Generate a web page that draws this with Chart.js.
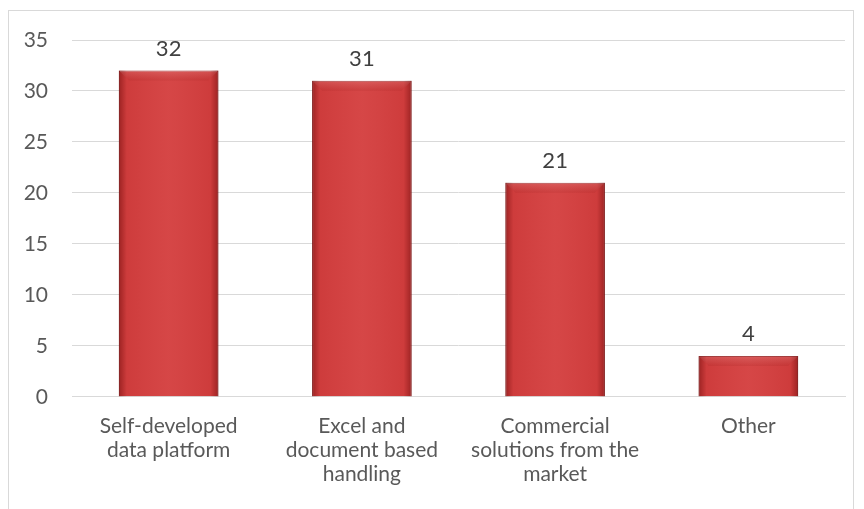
<!DOCTYPE html>
<html>
<head>
<meta charset="utf-8">
<script src="https://cdn.jsdelivr.net/npm/chart.js@4/dist/chart.umd.min.js"></script>
<style>
  html, body { margin: 0; padding: 0; background: #fff; overflow: hidden; }
  #wrap { position: relative; width: 864px; height: 509px; }
  #frame { position: absolute; left: 8px; top: 10px; width: 846px; height: 520px; border: 1px solid #d9d9d9; box-sizing: border-box; }
  canvas { position: absolute; left: 0; top: 0; }
</style>
</head>
<body>
<div id="wrap">
  <div id="frame"></div>
  <canvas id="c" width="864" height="509"></canvas>
</div>
<script>
const categories = [
  ['Self-developed', 'data platform'],
  ['Excel and', 'document based', 'handling'],
  ['Commercial', 'solutions from the', 'market'],
  'Other'
];
const counts = [32, 31, 21, 4];
const yTicks = [0, 5, 10, 15, 20, 25, 30, 35];

const FONT = "Lato, 'Open Sans', 'Liberation Sans', sans-serif";

// bevel-like shading on top of the flat bars
const barShade = {
  id: 'barShade',
  afterDatasetsDraw(chart) {
    const c = chart.ctx;
    chart.getDatasetMeta(0).data.forEach(el => {
      const x0 = el.x - el.width / 2, x1 = el.x + el.width / 2;
      const top = el.y, bot = el.base;
      c.save();
      const g = c.createLinearGradient(x0, 0, x1, 0);
      g.addColorStop(0, 'rgba(90,0,0,0.45)');
      g.addColorStop(0.08, 'rgba(90,0,0,0.05)');
      g.addColorStop(0.5, 'rgba(255,255,255,0.04)');
      g.addColorStop(0.92, 'rgba(90,0,0,0.05)');
      g.addColorStop(1, 'rgba(90,0,0,0.45)');
      c.fillStyle = g;
      c.fillRect(x0, top, x1 - x0, bot - top);
      const h = Math.min(10, bot - top);
      const v = c.createLinearGradient(0, top, 0, top + h);
      v.addColorStop(0, 'rgba(255,255,255,0.12)');
      v.addColorStop(1, 'rgba(120,0,0,0.10)');
      c.fillStyle = v;
      c.beginPath();
      c.moveTo(x0, top);
      c.lineTo(x1, top);
      c.lineTo(x1 - h, top + h);
      c.lineTo(x0 + h, top + h);
      c.closePath();
      c.fill();
      c.restore();
    });
  }
};

const valueLabels = {
  id: 'valueLabels',
  afterDatasetsDraw(chart) {
    const c = chart.ctx;
    c.save();
    c.font = '22px ' + FONT;
    c.fillStyle = '#404040';
    c.textAlign = 'center';
    c.textBaseline = 'bottom';
    chart.getDatasetMeta(0).data.forEach((el, i) => {
      c.fillText(String(counts[i]), el.x, el.y - 11);
    });
    c.restore();
  }
};

new Chart(document.getElementById('c'), {
  type: 'bar',
  data: {
    labels: categories,
    datasets: [{
      data: counts,
      backgroundColor: '#d43f3f',
      borderColor: '#9a2626',
      borderWidth: 1,
      barPercentage: 0.515,
      categoryPercentage: 1
    }]
  },
  options: {
    responsive: false,
    animation: false,
    layout: { padding: { left: 0, right: 19, top: 40, bottom: 13 } },
    plugins: { legend: { display: false }, tooltip: { enabled: false } },
    scales: {
      x: {
        grid: { display: false },
        border: { color: '#d9d9d9' },
        ticks: {
          color: '#595959',
          font: { family: FONT, size: 21, lineHeight: 1.13 },
          maxRotation: 0,
          autoSkip: false,
          padding: 10
        }
      },
      y: {
        min: 0,
        max: 35,
        afterBuildTicks(axis) { axis.ticks = yTicks.map(v => ({ value: v })); },
        afterFit(axis) { axis.width = 72; },
        grid: { color: '#d9d9d9', drawTicks: false, lineWidth: 1 },
        border: { display: false },
        ticks: {
          color: '#595959',
          font: { family: FONT, size: 21 },
          padding: 24
        }
      }
    }
  },
  plugins: [barShade, valueLabels]
});
</script>
</body>
</html>
